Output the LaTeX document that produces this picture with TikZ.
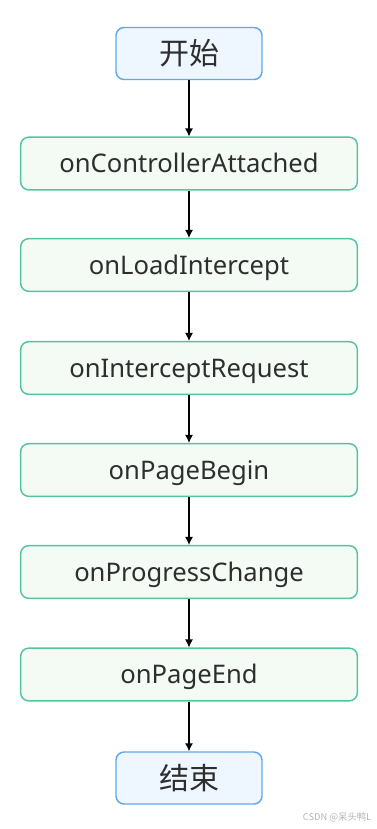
\documentclass[tikz,border=0pt]{standalone}
\usepackage{fontspec}
\setmainfont{Noto Sans}
\newfontfamily\cjk{Noto Sans CJK SC}
\usetikzlibrary{arrows.meta}
\definecolor{stepline}{HTML}{52C4A2}
\definecolor{stepfill}{HTML}{F4FAF4}
\definecolor{endline}{HTML}{62A8EA}
\definecolor{endfill}{HTML}{EEF6FF}
\definecolor{labeltext}{HTML}{2E2E2E}
\definecolor{marktext}{HTML}{B4B4B4}
\begin{document}
\begin{tikzpicture}[x=0.75pt, y=-0.75pt,
    stepbox/.style={rectangle, draw=stepline, fill=stepfill, line width=1.1pt, rounded corners=6pt, minimum width=252.5pt, minimum height=39.5pt, align=center, text=labeltext, text height=13.7pt, text depth=0pt, font=\fontsize{19.2}{22}\selectfont},
    endbox/.style={rectangle, draw=endline, fill=endfill, line width=1.1pt, rounded corners=6pt, minimum width=109.5pt, minimum height=39pt, align=center, text=labeltext, font=\cjk\fontsize{22.5}{26}\selectfont},
    arrow/.style={-{Latex[length=6pt, width=6pt]}, line width=0.85pt}
]
\useasboundingbox (0,0) rectangle (377,829);
% Steps from top to bottom
\node[endbox] (start) at (189,53.5) {开始};
\node[stepbox] (attached) at (189,163.5) {onControllerAttached};
\node[stepbox] (load) at (189,265) {onLoadIntercept};
\node[stepbox] (request) at (189,368) {onInterceptRequest};
\node[stepbox] (begin) at (189,470) {onPageBegin};
\node[stepbox] (progress) at (189,572) {onProgressChange};
\node[stepbox] (pageend) at (189,674.5) {onPageEnd};
\node[endbox] (finish) at (189,778) {结束};
% Arrows
\draw[arrow] (start) -- (attached);
\draw[arrow] (attached) -- (load);
\draw[arrow] (load) -- (request);
\draw[arrow] (request) -- (begin);
\draw[arrow] (begin) -- (progress);
\draw[arrow] (progress) -- (pageend);
\draw[arrow] (pageend) -- (finish);
% Watermark
\node[anchor=east, text=marktext, font=\cjk\fontsize{7}{8}\selectfont] (mark) at (376,817) {CSDN @呆头鸭L};
\end{tikzpicture}
\end{document}
